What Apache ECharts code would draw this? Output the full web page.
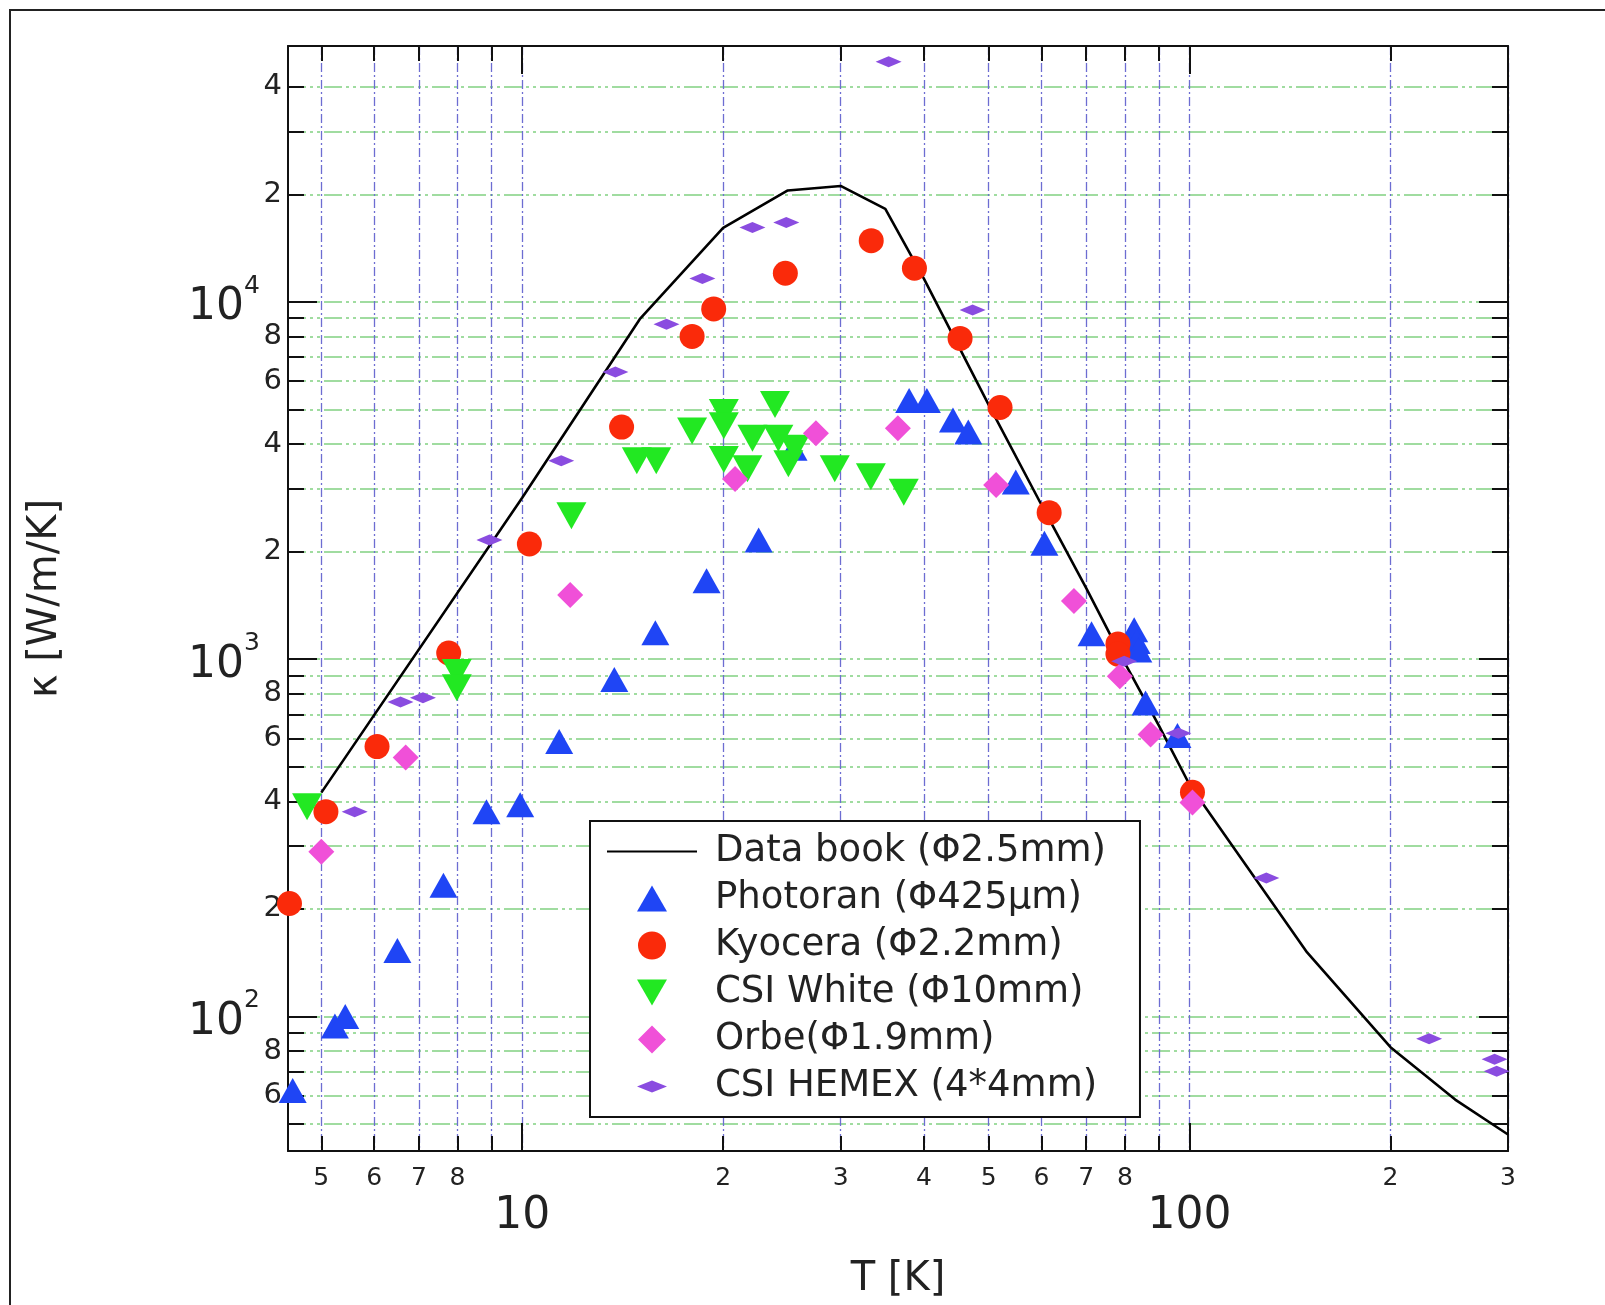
<!DOCTYPE html>
<html>
<head>
<meta charset="utf-8">
<script src="https://cdn.jsdelivr.net/npm/echarts@6/dist/echarts.min.js"></script>
<style>
html,body{margin:0;padding:0;background:#fff;}
#chart{width:1605px;height:1305px;}
</style>
</head>
<body>
<div id="chart"></div>
<script>
// ---------- data (T [K], kappa [W/m/K]) ----------
const dataBook = [[5,423],[10,2830],[15,8940],[20,16100],[25,20500],[30,21100],[35,18200],[40,11600],[50,5150],[60,2700],[70,1580],[80,975],[90,650],[100,445],[150,151],[200,82],[250,58.5],[300,46.7]];
const photoran = [[4.53,62],[5.24,94],[5.43,100],[6.5,153],[7.62,233],[8.84,374],[9.93,391],[11.36,588],[13.74,877],[15.83,1186],[18.89,1657],[22.61,2154],[25.5,3890],[38.0,5290],[40.4,5290],[44.2,4670],[46.6,4320],[54.9,3130],[60.6,2110],[71.3,1178],[82.6,1209],[83.3,1120],[83.8,1061],[85.9,754],[95.9,611]];
const kyocera = [[4.48,207],[5.08,374],[6.06,569],[7.76,1040],[10.25,2100],[14.09,4460],[17.97,8000],[19.36,9550],[24.79,12020],[33.34,14830],[38.7,12420],[45.3,7900],[52.0,5060],[61.6,2570],[78.1,1103],[78.1,1033],[101,424]];
const csiWhite = [[4.76,386],[7.98,918],[7.98,832],[11.85,2520],[14.85,3590],[15.88,3590],[17.97,4350],[20.05,4900],[20.05,4500],[20.05,3620],[21.75,3410],[22.13,4150],[23.92,5160],[24.2,4150],[25.05,3520],[25.6,3890],[29.4,3410],[33.3,3240],[37.3,2930]];
const orbe = [[5.0,289],[6.69,530],[11.8,1512],[20.84,3190],[27.55,4290],[36.55,4430],[51.3,3070],[67.1,1454],[78.6,895],[87.4,615],[101,397]];
const hemex = [[5.61,374],[6.57,759],[7.1,779],[8.93,2154],[11.44,3590],[13.79,6360],[16.45,8660],[18.62,11630],[22.13,16140],[24.87,16680],[35.4,47000],[47.3,9490],[79.8,987],[96.2,620],[130.3,244],[228.5,86.6],[286.4,75.9],[288.5,70.2]];

const seriesNames = ['Data book (Φ2.5mm)','Photoran (Φ425μm)','Kyocera (Φ2.2mm)','CSI White (Φ10mm)','Orbe(Φ1.9mm)','CSI HEMEX (4*4mm)'];

// ---------- tick values ----------
const xMinorTicks = [5,6,7,8,9,10,20,30,40,50,60,70,80,90,100,200,300];
const xMinorLabels = [5,6,7,8,20,30,40,50,60,70,80,200,300];
const xMajor = [10,100];
const yMinorTicks = [50,60,70,80,90,100,200,300,400,500,600,700,800,900,1000,2000,3000,4000,5000,6000,7000,8000,9000,10000,20000,30000,40000];
const yMinorLabels = [60,80,200,400,600,800,2000,4000,6000,8000,20000,40000];
const yMajor = [100,1000,10000];

const X_MIN = 4.457, X_MAX = 300, Y_MIN = 42, Y_MAX = 52000;

function leadDigit(v){ const e = Math.floor(Math.log10(v) + 1e-9); return String(Math.round(v / Math.pow(10, e))); }
function expLabel(v){ const e = Math.round(Math.log10(v)); return '{b|10}{s|' + e + '}'; }

const FONT = 'DejaVu Sans';
const TXT = '#222';
const AX = '#111';

function xAxisDef(pos, major, withLabels, withSplit){
  return {
    type:'log', logBase:10, min:X_MIN, max:X_MAX, position:pos,
    axisLine:{show:!major, lineStyle:{color:AX,width:2}},
    axisTick:{show:true, inside:true, length: major?28:15, lineStyle:{color:AX,width:2}, customValues: major? xMajor : xMinorTicks},
    axisLabel: withLabels ? (major ? {show:true, customValues:xMajor, formatter:v=>String(Math.round(v)), fontSize:44, fontFamily:FONT, color:TXT, margin:44}
                                   : {show:true, customValues:xMinorLabels, formatter:leadDigit, fontSize:25, fontFamily:FONT, color:TXT, margin:15})
                          : {show:false},
    splitLine: withSplit ? {show:true, lineStyle:{color:'#6d6dd2', width:1.3, type:[9,3,2,3]}} : {show:false},
    minorTick:{show:false}, minorSplitLine:{show:false}
  };
}
function yAxisDef(pos, major, withLabels, withSplit){
  return {
    type:'log', logBase:10, min:Y_MIN, max:Y_MAX, position:pos,
    axisLine:{show:!major, lineStyle:{color:AX,width:2}},
    axisTick:{show:true, inside:true, length: major?29:16, lineStyle:{color:AX,width:2}, customValues: major? yMajor : yMinorTicks},
    axisLabel: withLabels ? (major ? {show:true, customValues:yMajor, formatter:expLabel, margin:28, color:TXT,
                                       rich:{b:{fontSize:44, fontFamily:FONT, color:TXT, padding:[12,0,0,0]}, s:{fontSize:25, fontFamily:FONT, color:TXT, verticalAlign:'top'}}}
                                   : {show:true, customValues:yMinorLabels, formatter:leadDigit, fontSize:29, fontFamily:FONT, color:TXT, margin:6})
                          : {show:false},
    splitLine: withSplit ? {show:true, lineStyle:{color:'#a0dca0', width:2, type:[18,4,3,4,3,4]}} : {show:false},
    minorTick:{show:false}, minorSplitLine:{show:false}
  };
}

const xAxes = [xAxisDef('bottom',false,true,true), xAxisDef('bottom',true,true,false), xAxisDef('top',false,false,false), xAxisDef('top',true,false,false)];
xAxes[1].name = 'T [K]';
xAxes[1].nameLocation = 'middle';
xAxes[1].nameGap = 109;
xAxes[1].nameTextStyle = {fontSize:40, fontFamily:FONT, color:TXT};

const yAxes = [yAxisDef('left',false,true,true), yAxisDef('left',true,true,false), yAxisDef('right',false,false,false), yAxisDef('right',true,false,false)];
yAxes[1].name = 'κ [W/m/K]';
yAxes[1].nameLocation = 'middle';
yAxes[1].nameGap = 222;
yAxes[1].nameTextStyle = {fontSize:40, fontFamily:FONT, color:TXT};

const TRI = 'path://M0,18 L10,0 L20,18 Z';
const INV_TRI = 'path://M0,0 L20,0 L10,18 Z';
const DIAM = 'path://M10,0 L20,10 L10,20 L0,10 Z';
const FLAT_DIAM = 'path://M0,5.5 L13,0 L26,5.5 L13,11 Z';

// legend icons: symbol drawn in the middle of a 90x28 icon box
const legendIcons = [
  null,
  'path://M0,0 M90,28 M30,27 L45,1 L60,27 Z',
  'circle',
  'path://M0,0 M90,28 M30,1 L60,1 L45,27 Z',
  'path://M0,0 M90,28 M45,0 L59,14 L45,28 L31,14 Z',
  'path://M0,0 M90,28 M30,14 L45,8 L60,14 L45,20 Z'
];
const legendData = seriesNames.map((n,i)=> i===0 ? {name:n, itemStyle:{color:'rgba(0,0,0,0)', opacity:0, borderWidth:0}} : {name:n, icon:legendIcons[i]});

const option = {
  animation:false,
  backgroundColor:'#fff',
  grid:{left:288, right:97, top:46, bottom:148, containLabel:false},
  graphic:[{type:'rect', shape:{x:10,y:10,width:1700,height:1400}, style:{fill:'transparent', stroke:'#222', lineWidth:2}, z:-1}],
  legend:{
    orient:'vertical', left:590, top:821,
    padding:[12,34,12,16], itemGap:10, itemWidth:90, itemHeight:28,
    borderColor:AX, borderWidth:2, backgroundColor:'#fff',
    symbolKeepAspect:true,
    textStyle:{fontSize:37, fontFamily:FONT, color:TXT, padding:[0,0,0,13]},
    data:legendData
  },
  xAxis:xAxes,
  yAxis:yAxes,
  series:[
    {name:seriesNames[0], type:'line', data:dataBook, symbol:'none', lineStyle:{color:'#000', width:2.6}, itemStyle:{color:'#000'}, z:2},
    {name:seriesNames[1], type:'scatter', data:photoran, symbol:TRI, symbolSize:[28,25], itemStyle:{color:'#1f45f5', opacity:1}, z:3},
    {name:seriesNames[2], type:'scatter', data:kyocera, symbol:'circle', symbolSize:25, itemStyle:{color:'#fa2a0a', opacity:1}, z:3},
    {name:seriesNames[3], type:'scatter', data:csiWhite, symbol:INV_TRI, symbolSize:[30,27], itemStyle:{color:'#22e822', opacity:1}, z:3},
    {name:seriesNames[4], type:'scatter', data:orbe, symbol:DIAM, symbolSize:26, itemStyle:{color:'#f050d8', opacity:1}, z:3},
    {name:seriesNames[5], type:'scatter', data:hemex, symbol:FLAT_DIAM, symbolSize:[26,11], itemStyle:{color:'#8a4ce0', opacity:1}, z:3}
  ]
};

const chart = echarts.init(document.getElementById('chart'), null, {renderer:'canvas'});
chart.setOption(option);
</script>
</body>
</html>
